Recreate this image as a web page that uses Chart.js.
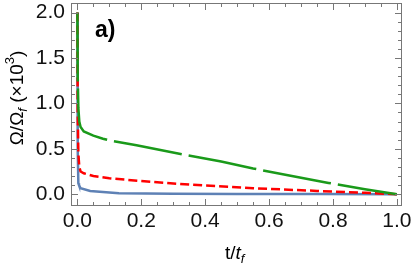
<!DOCTYPE html>
<html>
<head>
<meta charset="utf-8">
<script src="https://cdn.jsdelivr.net/npm/chart.js@4.4.0/dist/chart.umd.min.js"></script>
<style>
  html, body { margin: 0; padding: 0; background: #fff; }
  #wrap { width: 412px; height: 269px; }
</style>
</head>
<body>
<div id="wrap"><canvas id="omegaChart" width="412" height="269"></canvas></div>
<script>
// values (t/t_f, Omega/Omega_f x10^3)
var greenT = [0, 0.001, 0.003, 0.006, 0.01, 0.02, 0.05, 0.08, 0.106, 0.185, 0.315, 0.45, 0.55, 0.7, 0.786, 0.9, 1.0];
var greenV = [2.0, 1.3, 0.95, 0.8, 0.74, 0.69, 0.645, 0.61, 0.587, 0.539, 0.448, 0.36, 0.283, 0.182, 0.124, 0.055, 0.0];

var redT = [0, 0.001, 0.003, 0.006, 0.01, 0.02, 0.05, 0.1, 0.2, 0.3, 0.4, 0.55, 0.75, 0.9, 1.0];
var redV = [2.0, 0.9, 0.45, 0.3, 0.25, 0.23, 0.2, 0.175, 0.145, 0.118, 0.095, 0.066, 0.036, 0.015, 0.0];

var blueT = [0, 0.001, 0.003, 0.005, 0.01, 0.04, 0.13, 0.3, 0.5, 0.75, 1.0];
var blueV = [2.0, 0.5, 0.12, 0.1, 0.065, 0.035, 0.01, 0.005, 0.003, 0.001, 0.0];

var xTicks = [0, 0.2, 0.4, 0.6, 0.8, 1.0];
var yTicks = [0, 0.5, 1.0, 1.5, 2.0];

function pts(ts, vs) {
    return ts.map(function (t, i) { return {x: t, y: vs[i]}; });
}

var fontFam = "'Liberation Sans', Arial, sans-serif";

// frame with inward ticks, axis titles and panel label
var framePlugin = {
    id: 'frame',
    afterDraw: function (chart) {
        var ctx = chart.ctx, a = chart.chartArea;
        var xs = chart.scales.x, ys = chart.scales.y;
        ctx.save();
        ctx.strokeStyle = '#777';
        ctx.lineWidth = 1;
        ctx.strokeRect(a.left + 0.5, a.top + 0.5, a.right - a.left - 1, a.bottom - a.top - 1);
        var v, p, len;
        ctx.beginPath();
        for (v = 0; v <= 1.0001; v += 0.05) {
            p = Math.round(xs.getPixelForValue(v)) + 0.5;
            len = (Math.abs(v / 0.2 - Math.round(v / 0.2)) < 0.01) ? 7 : 4;
            ctx.moveTo(p, a.bottom); ctx.lineTo(p, a.bottom - len);
            ctx.moveTo(p, a.top); ctx.lineTo(p, a.top + len);
        }
        for (v = 0; v <= 2.0001; v += 0.1) {
            p = Math.round(ys.getPixelForValue(v)) + 0.5;
            len = (Math.abs(v / 0.5 - Math.round(v / 0.5)) < 0.01) ? 7 : 4;
            ctx.moveTo(a.left, p); ctx.lineTo(a.left + len, p);
            ctx.moveTo(a.right, p); ctx.lineTo(a.right - len, p);
        }
        ctx.stroke();

        // panel label
        ctx.fillStyle = '#000';
        ctx.font = 'bold 23px ' + fontFam;
        ctx.textBaseline = 'alphabetic';
        ctx.fillText('a)', 95, 37);

        // x title t/t_f
        ctx.font = '19px ' + fontFam;
        var x = 225, y = 259;
        ctx.fillText('t/', x, y); x += ctx.measureText('t/').width;
        ctx.font = 'italic 19px ' + fontFam;
        ctx.fillText('t', x, y); x += ctx.measureText('t').width;
        ctx.font = 'italic 13px ' + fontFam;
        ctx.fillText('f', x, y + 4);

        // y title, rotated
        ctx.translate(23, 98);
        ctx.rotate(-Math.PI / 2);
        var parts = [
            ['Ω/Ω', '19px ', 0],
            ['f', 'italic 13px ', 4],
            [' (×10', '19px ', 0],
            ['3', '13px ', -9],
            [')', '19px ', 0]
        ];
        var total = 0;
        parts.forEach(function (q) { ctx.font = q[1] + fontFam; total += ctx.measureText(q[0]).width; });
        x = -total / 2;
        parts.forEach(function (q) {
            ctx.font = q[1] + fontFam;
            ctx.fillText(q[0], x, q[2]);
            x += ctx.measureText(q[0]).width;
        });
        ctx.restore();
    }
};

var omegaCanvas = document.getElementById("omegaChart");
var omegaChart = new Chart(omegaCanvas, {
    type: 'line',
    data: {
        datasets: [
            {
                data: pts(greenT, greenV),
                borderColor: 'rgb(26, 154, 26)',
                borderWidth: 2.5,
                borderDash: [69, 7],
                pointRadius: 0,
                tension: 0,
                order: 0
            },
            {
                data: pts(redT, redV),
                borderColor: 'rgb(255, 0, 0)',
                borderWidth: 2.5,
                borderDash: [9, 4],
                pointRadius: 0,
                tension: 0,
                order: 1
            },
            {
                data: pts(blueT, blueV),
                borderColor: 'rgb(94, 129, 181)',
                borderWidth: 2.5,
                pointRadius: 0,
                tension: 0,
                order: 2
            }
        ]
    },
    options: {
        responsive: false,
        animation: false,
        layout: { padding: { left: 0, right: 10, top: 3, bottom: 0 } },
        plugins: {
            legend: { display: false },
            tooltip: { enabled: false }
        },
        scales: {
            x: {
                type: 'linear',
                min: -0.02,
                max: 1.016,
                afterBuildTicks: function (s) { s.ticks = xTicks.map(function (v) { return {value: v}; }); },
                afterFit: function (s) { s.height = 63; s.paddingLeft = 0; s.paddingRight = 0; },
                grid: { display: false, drawTicks: false },
                border: { display: false },
                ticks: {
                    autoSkip: false,
                    maxRotation: 0,
                    padding: 3,
                    color: '#111',
                    font: { family: fontFam, size: 21 },
                    callback: function (v) { return v.toFixed(1); }
                }
            },
            y: {
                min: -0.13,
                max: 2.105,
                afterBuildTicks: function (s) { s.ticks = yTicks.map(function (v) { return {value: v}; }); },
                afterFit: function (s) { s.width = 71; s.paddingTop = 0; s.paddingBottom = 0; },
                grid: { display: false, drawTicks: false },
                border: { display: false },
                ticks: {
                    padding: 6,
                    color: '#111',
                    font: { family: fontFam, size: 21 },
                    callback: function (v) { return v.toFixed(1); }
                }
            }
        }
    },
    plugins: [framePlugin]
});
</script>
</body>
</html>
